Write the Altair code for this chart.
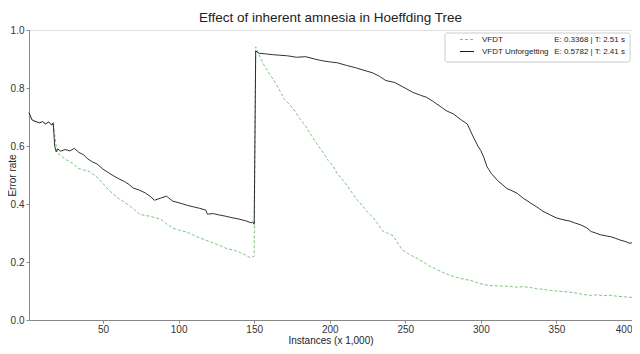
import altair as alt
import pandas as pd

# Series: VFDT (green, dashed)
vfdt_x = [1, 3, 5, 8, 10, 12, 14, 16, 17, 18, 19, 20, 22, 25, 28, 30, 34, 37, 41, 44, 47, 50,
          54, 57, 60, 63, 66, 68, 71, 74, 78, 81, 85, 88, 92, 96, 100, 105, 110, 114, 118, 123,
          128, 132, 137, 141, 144, 146, 148, 150, 151, 154, 157, 160, 164, 167, 170, 174, 177,
          180, 184, 188, 192, 196, 199, 202, 205, 209, 212, 215, 218, 222, 225, 229, 232, 235,
          238, 242, 245, 248, 253, 258, 262, 266, 270, 275, 280, 284, 289, 293, 298, 302, 306,
          310, 315, 319, 324, 328, 333, 337, 342, 346, 350, 355, 359, 364, 368, 372, 377, 381,
          386, 390, 395, 400]
vfdt_y = [0.715, 0.69, 0.685, 0.68, 0.684, 0.676, 0.683, 0.672, 0.68, 0.64, 0.60, 0.575, 0.567,
          0.555, 0.545, 0.54, 0.522, 0.518, 0.512, 0.50, 0.488, 0.47, 0.447, 0.433, 0.42, 0.41,
          0.40, 0.392, 0.38, 0.365, 0.36, 0.358, 0.352, 0.348, 0.332, 0.317, 0.31, 0.304, 0.292,
          0.283, 0.275, 0.266, 0.255, 0.246, 0.24, 0.232, 0.225, 0.218, 0.215, 0.22, 0.942,
          0.905, 0.874, 0.85, 0.819, 0.79, 0.761, 0.74, 0.72, 0.695, 0.669, 0.635, 0.603, 0.575,
          0.55, 0.532, 0.505, 0.481, 0.46, 0.437, 0.415, 0.392, 0.372, 0.352, 0.33, 0.307, 0.30,
          0.29, 0.265, 0.242, 0.225, 0.212, 0.20, 0.186, 0.176, 0.164, 0.153, 0.147, 0.14, 0.137,
          0.128, 0.122, 0.119, 0.118, 0.117, 0.116, 0.113, 0.115, 0.112, 0.108, 0.105, 0.102,
          0.10, 0.098, 0.096, 0.092, 0.088, 0.085, 0.087, 0.084, 0.085, 0.082, 0.08, 0.078]

# Series: VFDT Unforgetting (black)
unf_x = [1, 3, 5, 8, 10, 12, 14, 16, 17, 18, 19, 20, 22, 25, 28, 31, 34, 37, 40, 43, 46, 50,
         53, 56, 60, 64, 67, 70, 74, 78, 81, 84, 88, 92, 96, 101, 106, 110, 114, 118, 119, 123,
         127, 131, 136, 140, 145, 148, 149, 150, 151, 153, 157, 162, 167, 172, 178, 184, 190,
         195, 200, 205, 211, 217, 222, 228, 233, 237, 243, 248, 255, 260, 264, 268, 273, 277,
         282, 287, 291, 295, 298, 300, 302, 304, 307, 311, 314, 317, 320, 324, 328, 333, 337,
         341, 346, 350, 355, 359, 362, 366, 370, 373, 376, 379, 383, 386, 389, 392, 396, 398, 400]
unf_y = [0.715, 0.69, 0.685, 0.68, 0.684, 0.676, 0.683, 0.672, 0.68, 0.60, 0.58, 0.59, 0.582,
         0.588, 0.583, 0.592, 0.578, 0.57, 0.555, 0.545, 0.538, 0.52, 0.51, 0.50, 0.488, 0.478,
         0.468, 0.455, 0.448, 0.438, 0.427, 0.413, 0.42, 0.427, 0.41, 0.403, 0.395, 0.39, 0.385,
         0.379, 0.365, 0.367, 0.362, 0.358, 0.352, 0.348, 0.341, 0.335, 0.338, 0.33, 0.928,
         0.92, 0.918, 0.915, 0.913, 0.911, 0.906, 0.908, 0.90, 0.894, 0.89, 0.887, 0.878, 0.87,
         0.862, 0.853, 0.84, 0.826, 0.819, 0.805, 0.785, 0.775, 0.768, 0.755, 0.737, 0.722, 0.71,
         0.69, 0.676, 0.631, 0.60, 0.584, 0.56, 0.529, 0.505, 0.481, 0.468, 0.454, 0.447, 0.437,
         0.42, 0.403, 0.39, 0.375, 0.362, 0.352, 0.345, 0.341, 0.335, 0.328, 0.318, 0.305, 0.30,
         0.294, 0.29, 0.287, 0.282, 0.276, 0.27, 0.265, 0.266]

series_names = ["VFDT", "VFDT Unforgetting"]
series_stats = ["E: 0.3368 | T: 2.51 s", "E: 0.5782 | T: 2.41 s"]
x_ticks = [50, 100, 150, 200, 250, 300, 350, 400]
y_ticks = [0.0, 0.2, 0.4, 0.6, 0.8, 1.0]

df = pd.concat([
    pd.DataFrame({"x": vfdt_x, "y": vfdt_y, "s": series_names[0]}),
    pd.DataFrame({"x": unf_x, "y": unf_y, "s": series_names[1]}),
])

W, H = 603, 290
FONT = "Liberation Sans"

xs = alt.X("x:Q", scale=alt.Scale(domain=[1, 400], nice=False, zero=False),
           axis=alt.Axis(values=x_ticks, title="Instances (x 1,000)", grid=False,
                         tickSize=3, labelPadding=1, labelFontSize=10, labelColor="#333",
                         labelFlush=True,
                         titleFontSize=10, titleFontWeight="normal", titleColor="#222",
                         titleY=23, titleBaseline="alphabetic",
                         domainColor="#888", tickColor="#888", labelFont=FONT, titleFont=FONT))
ys = alt.Y("y:Q", scale=alt.Scale(domain=[0, 1], nice=False),
           axis=alt.Axis(values=y_ticks, format=".1f", title="Error rate", grid=False,
                         tickSize=3, labelPadding=2, labelFontSize=10, labelColor="#333",
                         titleFontSize=10, titleFontWeight="normal", titleColor="#222",
                         titleX=-17, titleY=H / 2, titleAngle=-90, titleAlign="center",
                         titleBaseline="middle",
                         domainColor="#888", tickColor="#888", labelFont=FONT, titleFont=FONT))

green = alt.Chart(df[df.s == series_names[0]]).mark_line(
    color="#7cc47c", strokeWidth=1, strokeDash=[3, 2]).encode(x=xs, y=ys, order="x:Q")
black = alt.Chart(df[df.s == series_names[1]]).mark_line(
    color="#1a1a1a", strokeWidth=0.9).encode(x="x:Q", y="y:Q", order="x:Q")

leg_box = alt.Chart(pd.DataFrame({"a": [0]})).mark_rect(
    fill="white", stroke="#cccccc", strokeWidth=1, cornerRadius=2).encode(
    x=alt.value(416), x2=alt.value(601), y=alt.value(3), y2=alt.value(32))

leg_df = pd.DataFrame({"name": series_names, "stat": series_stats, "yy": [9.5, 21.5]})
leg_green = alt.Chart(leg_df.iloc[[0]]).mark_rule(
    color="#7cc47c", strokeWidth=1, strokeDash=[3, 2]).encode(
    x=alt.value(431), x2=alt.value(445), y=alt.value(9.5))
leg_black = alt.Chart(leg_df.iloc[[1]]).mark_rule(
    color="#1a1a1a", strokeWidth=1).encode(
    x=alt.value(431), x2=alt.value(445), y=alt.value(21.5))
leg_names = alt.Chart(leg_df).mark_text(
    align="left", baseline="middle", fontSize=8, font=FONT, color="#222").encode(
    x=alt.value(453), y=alt.Y("yy:Q", scale=None), text="name:N")
leg_stats = alt.Chart(leg_df).mark_text(
    align="right", baseline="middle", fontSize=8, font=FONT, color="#222").encode(
    x=alt.value(596), y=alt.Y("yy:Q", scale=None), text="stat:N")

chart = alt.layer(green, black, leg_box, leg_green, leg_black, leg_names, leg_stats).properties(
    width=W, height=H,
    title=alt.TitleParams("Effect of inherent amnesia in Hoeffding Tree", fontSize=13.5,
                          font=FONT, fontWeight="normal", color="#222", anchor="middle",
                          offset=1),
    autosize=alt.AutoSizeParams(type="none"),
    padding={"left": 21, "top": 22, "right": 0, "bottom": 26},
).configure_view(stroke="#888", strokeWidth=1).configure(background="white")

chart.save("out.html", embed_options={"renderer": "svg", "actions": False})
